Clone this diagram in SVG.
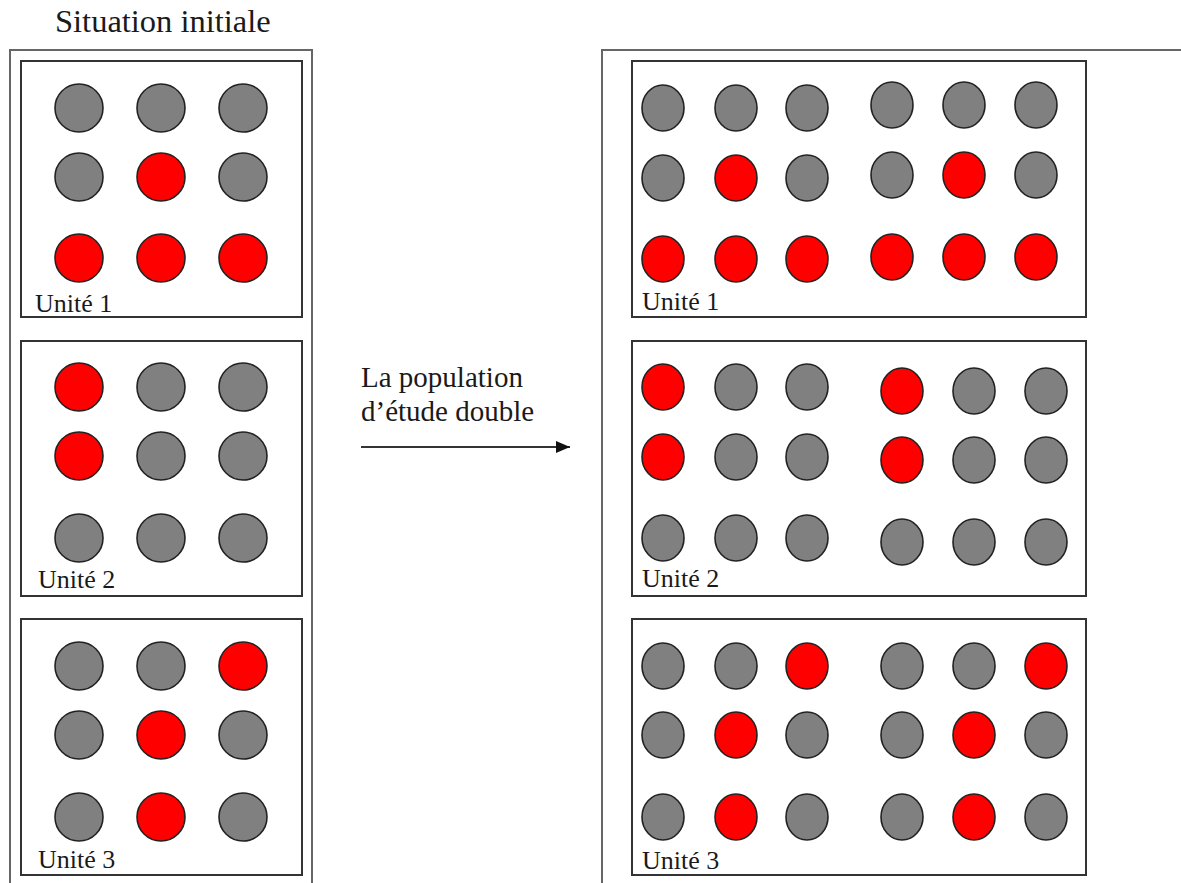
<svg xmlns="http://www.w3.org/2000/svg" width="1181" height="883" viewBox="0 0 1181 883">
<defs>
<style>
.frame{fill:none;stroke:#666;stroke-width:2}
.box{fill:#fff;stroke:#333;stroke-width:2}
.g{fill:#808080;stroke:#222;stroke-width:1.6}
.r{fill:#ff0000;stroke:#222;stroke-width:1.6}
.t{font-family:"Liberation Serif","Times New Roman",serif;fill:#1a1a1a}
.lbl{font-size:26px}
</style>
<marker id="ah2" viewBox="0 0 14 12" refX="14" refY="6" markerWidth="14" markerHeight="12" orient="auto" markerUnits="userSpaceOnUse">
<path d="M0,0 L14,6 L0,12 z" fill="#111"/>
</marker>
</defs>
<rect width="1181" height="883" fill="#fff"/>
<text class="t" x="55" y="32" font-size="32.5">Situation initiale</text>
<g id="frame-left"><path class="frame" d="M10,883 V50 H312 V883"/></g>
<g id="frame-right"><path class="frame" d="M602,883 V50 H1181"/></g>

<g id="left-unit1">
<rect class="box" x="21" y="61" width="281" height="256"/>
<circle class="g" cx="79" cy="108" r="24"/><circle class="g" cx="161" cy="108" r="24"/><circle class="g" cx="243" cy="108" r="24"/>
<circle class="g" cx="79" cy="177" r="24"/><circle class="r" cx="161" cy="177" r="24"/><circle class="g" cx="243" cy="177" r="24"/>
<circle class="r" cx="79" cy="258" r="24"/><circle class="r" cx="161" cy="258" r="24"/><circle class="r" cx="243" cy="258" r="24"/>
<text class="t lbl" x="35" y="312">Unité 1</text>
</g>
<g id="left-unit2">
<rect class="box" x="21" y="341" width="281" height="255"/>
<circle class="r" cx="79" cy="387" r="24"/><circle class="g" cx="161" cy="387" r="24"/><circle class="g" cx="243" cy="387" r="24"/>
<circle class="r" cx="79" cy="456" r="24"/><circle class="g" cx="161" cy="456" r="24"/><circle class="g" cx="243" cy="456" r="24"/>
<circle class="g" cx="79" cy="538" r="24"/><circle class="g" cx="161" cy="538" r="24"/><circle class="g" cx="243" cy="538" r="24"/>
<text class="t lbl" x="38" y="588">Unité 2</text>
</g>
<g id="left-unit3">
<rect class="box" x="21" y="619" width="281" height="256"/>
<circle class="g" cx="79" cy="666" r="24"/><circle class="g" cx="161" cy="666" r="24"/><circle class="r" cx="243" cy="666" r="24"/>
<circle class="g" cx="79" cy="735" r="24"/><circle class="r" cx="161" cy="735" r="24"/><circle class="g" cx="243" cy="735" r="24"/>
<circle class="g" cx="79" cy="817" r="24"/><circle class="r" cx="161" cy="817" r="24"/><circle class="g" cx="243" cy="817" r="24"/>
<text class="t lbl" x="38" y="868">Unité 3</text>
</g>

<g id="right-unit1">
<rect class="box" x="632" y="61" width="454" height="256"/>
<ellipse class="g" cx="663" cy="108" rx="21" ry="23"/><ellipse class="g" cx="736" cy="108" rx="21" ry="23"/><ellipse class="g" cx="807" cy="108" rx="21" ry="23"/>
<ellipse class="g" cx="663" cy="178" rx="21" ry="23"/><ellipse class="r" cx="736" cy="178" rx="21" ry="23"/><ellipse class="g" cx="807" cy="178" rx="21" ry="23"/>
<ellipse class="r" cx="663" cy="259" rx="21" ry="23"/><ellipse class="r" cx="736" cy="259" rx="21" ry="23"/><ellipse class="r" cx="807" cy="259" rx="21" ry="23"/>
<ellipse class="g" cx="892" cy="105" rx="21" ry="23"/><ellipse class="g" cx="964" cy="105" rx="21" ry="23"/><ellipse class="g" cx="1036" cy="105" rx="21" ry="23"/>
<ellipse class="g" cx="892" cy="175" rx="21" ry="23"/><ellipse class="r" cx="964" cy="175" rx="21" ry="23"/><ellipse class="g" cx="1036" cy="175" rx="21" ry="23"/>
<ellipse class="r" cx="892" cy="257" rx="21" ry="23"/><ellipse class="r" cx="964" cy="257" rx="21" ry="23"/><ellipse class="r" cx="1036" cy="257" rx="21" ry="23"/>
<text class="t lbl" x="642" y="310">Unité 1</text>
</g>
<g id="right-unit2">
<rect class="box" x="632" y="341" width="454" height="255"/>
<ellipse class="r" cx="663" cy="387" rx="21" ry="23"/><ellipse class="g" cx="736" cy="387" rx="21" ry="23"/><ellipse class="g" cx="807" cy="387" rx="21" ry="23"/>
<ellipse class="r" cx="663" cy="457" rx="21" ry="23"/><ellipse class="g" cx="736" cy="457" rx="21" ry="23"/><ellipse class="g" cx="807" cy="457" rx="21" ry="23"/>
<ellipse class="g" cx="663" cy="538" rx="21" ry="23"/><ellipse class="g" cx="736" cy="538" rx="21" ry="23"/><ellipse class="g" cx="807" cy="538" rx="21" ry="23"/>
<ellipse class="r" cx="902" cy="391" rx="21" ry="23"/><ellipse class="g" cx="974" cy="391" rx="21" ry="23"/><ellipse class="g" cx="1046" cy="391" rx="21" ry="23"/>
<ellipse class="r" cx="902" cy="460" rx="21" ry="23"/><ellipse class="g" cx="974" cy="460" rx="21" ry="23"/><ellipse class="g" cx="1046" cy="460" rx="21" ry="23"/>
<ellipse class="g" cx="902" cy="542" rx="21" ry="23"/><ellipse class="g" cx="974" cy="542" rx="21" ry="23"/><ellipse class="g" cx="1046" cy="542" rx="21" ry="23"/>
<text class="t lbl" x="642" y="587">Unité 2</text>
</g>
<g id="right-unit3">
<rect class="box" x="632" y="619" width="454" height="256"/>
<ellipse class="g" cx="663" cy="666" rx="21" ry="23"/><ellipse class="g" cx="736" cy="666" rx="21" ry="23"/><ellipse class="r" cx="807" cy="666" rx="21" ry="23"/>
<ellipse class="g" cx="663" cy="735" rx="21" ry="23"/><ellipse class="r" cx="736" cy="735" rx="21" ry="23"/><ellipse class="g" cx="807" cy="735" rx="21" ry="23"/>
<ellipse class="g" cx="663" cy="817" rx="21" ry="23"/><ellipse class="r" cx="736" cy="817" rx="21" ry="23"/><ellipse class="g" cx="807" cy="817" rx="21" ry="23"/>
<ellipse class="g" cx="902" cy="666" rx="21" ry="23"/><ellipse class="g" cx="974" cy="666" rx="21" ry="23"/><ellipse class="r" cx="1046" cy="666" rx="21" ry="23"/>
<ellipse class="g" cx="902" cy="735" rx="21" ry="23"/><ellipse class="r" cx="974" cy="735" rx="21" ry="23"/><ellipse class="g" cx="1046" cy="735" rx="21" ry="23"/>
<ellipse class="g" cx="902" cy="817" rx="21" ry="23"/><ellipse class="r" cx="974" cy="817" rx="21" ry="23"/><ellipse class="g" cx="1046" cy="817" rx="21" ry="23"/>
<text class="t lbl" x="642" y="869">Unité 3</text>
</g>

<g id="connectors">
<line x1="361" y1="447" x2="570" y2="447" stroke="#333" stroke-width="1.8" marker-end="url(#ah2)"/>
<text class="t" x="361" y="387" font-size="29">La population</text>
<text class="t" x="361" y="421" font-size="29">d’étude double</text>
</g>
</svg>
